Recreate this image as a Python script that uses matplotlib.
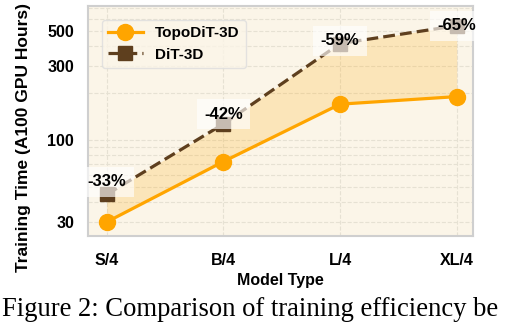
import numpy as np
import matplotlib.pyplot as plt
from matplotlib.ticker import FixedLocator, LogLocator, NullFormatter

# data
models = ['S/4', 'B/4', 'L/4', 'XL/4']
topodit = [30, 73, 170, 190]
dit = [45, 127, 415, 540]
reductions = ['-33%', '-42%', '-59%', '-65%']
label_offsets = [9, 7, 2, 0]  # points above the DiT marker
yticks = [30, 100, 300, 500]
caption = 'Figure 2: Comparison of training efficiency be'

plt.rcParams['font.family'] = ['Liberation Sans', 'DejaVu Sans']

orange = '#FFA500'
brown = '#5e3f1e'

fig = plt.figure(figsize=(5.12, 3.22), dpi=100)
ax = fig.add_axes([0.172, 0.267, 0.752, 0.714])
ax.set_facecolor('#fbf5e8')

x = np.arange(len(models))

ax.fill_between(x, topodit, dit, color=orange, alpha=0.2, linewidth=0, zorder=1)
ax.plot(x, topodit, color=orange, linestyle='-', linewidth=2.3, marker='o',
        markersize=11.5, label='TopoDiT-3D', zorder=3)
ax.plot(x, dit, color=brown, linestyle='--', linewidth=2.3, marker='s',
        markersize=10, label='DiT-3D', zorder=3)

for xi, yi, txt, off in zip(x, dit, reductions, label_offsets):
    ax.annotate(txt, (xi, yi), xytext=(0, off), textcoords='offset points',
                ha='center', va='center', fontsize=12, fontweight='bold',
                bbox=dict(boxstyle='square,pad=0.45', facecolor='white',
                          edgecolor='none', alpha=0.65),
                zorder=5)

ax.set_yscale('log')
ax.set_xlim(-0.16, 3.14)
ax.set_ylim(24.4, 720)
ax.yaxis.set_major_locator(FixedLocator(yticks))
ax.set_yticklabels([str(t) for t in yticks])
ax.yaxis.set_minor_locator(LogLocator(base=10, subs=np.arange(2, 10)))
ax.yaxis.set_minor_formatter(NullFormatter())
ax.set_xticks(x)
ax.set_xticklabels(models)

ax.tick_params(axis='both', which='both', length=0)
ax.tick_params(axis='y', pad=10, labelsize=11.5)
ax.tick_params(axis='x', pad=12, labelsize=11.5)
for lab in ax.get_xticklabels() + ax.get_yticklabels():
    lab.set_fontweight('bold')

ax.grid(True, which='both', linestyle='--', linewidth=0.8, color='#e6e1d3')
ax.set_axisbelow(True)

for sp in ax.spines.values():
    sp.set_color('#cfcfcf')
    sp.set_linewidth(1.5)

ax.set_xlabel('Model Type', fontsize=11.5, fontweight='bold', labelpad=4)
ax.set_ylabel('Training Time (A100 GPU Hours)', fontsize=12.5, fontweight='bold')
ax.yaxis.set_label_coords(-0.148, 0.43)

leg = ax.legend(loc='upper left', frameon=True, fancybox=True,
                borderaxespad=0.9, handlelength=2.3, prop={'weight': 'bold', 'size': 11})
leg.get_frame().set_edgecolor('#dddddd')
leg.get_frame().set_facecolor('#fbf5e8')

fig.text(0.004, 0.018, caption, family='Liberation Serif', fontsize=19.2,
         va='baseline', ha='left')

plt.savefig('out.png', dpi=100)
